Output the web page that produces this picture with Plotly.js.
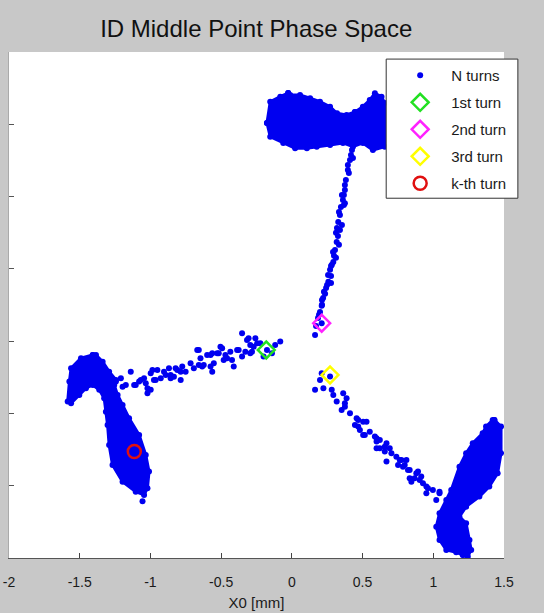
<!DOCTYPE html>
<html>
<head>
<meta charset="utf-8">
<script src="https://cdn.plot.ly/plotly-3.0.1.min.js"></script>
<style>
html,body{margin:0;padding:0;background:#c8c8c8;}
#chart{width:544px;height:613px;}
</style>
</head>
<body>
<div id="chart"></div>
<script>
// ---- data (X0 [mm] horizontal, unlabeled vertical axis) ----
const tickVals = [-2, -1.5, -1, -0.5, 0, 0.5, 1, 1.5];
const tickText = ['-2', '-1.5', '-1', '-0.5', '0', '0.5', '1', '1.5'];
const yTickVals = [-1.5, -1, -0.5, 0, 0.5, 1, 1.5, 2];

// dense cloud outlines (N turns)
const topBlobX = [-0.176,-0.153,-0.082,-0.026,-0.012,0.058,0.129,0.199,0.270,0.319,0.387,0.446,0.502,0.551,0.587,0.634,0.657,0.657,0.573,0.502,0.432,0.361,0.270,0.176,0.106,0.023,-0.061,-0.153,-0.176];
const topBlobY = [1.509,1.656,1.691,1.716,1.703,1.703,1.680,1.656,1.622,1.576,1.564,1.585,1.622,1.668,1.714,1.691,1.647,1.345,1.322,1.371,1.345,1.371,1.357,1.345,1.334,1.334,1.371,1.414,1.509];

const rightBlobX = [1.432,1.479,1.479,1.455,1.396,1.326,1.232,1.185,1.232,1.256,1.268,1.244,1.208,1.162,1.092,1.044,1.021,1.044,1.092,1.127,1.185,1.232,1.279,1.349,1.373,1.420,1.432];
const rightBlobY = [-0.545,-0.591,-0.775,-0.914,-1.006,-1.075,-1.145,-1.214,-1.259,-1.375,-1.444,-1.490,-1.480,-1.460,-1.444,-1.375,-1.283,-1.191,-1.098,-1.029,-0.868,-0.775,-0.706,-0.637,-0.591,-0.545,-0.545];

const leftBlobX = [-1.408,-1.491,-1.561,-1.573,-1.585,-1.561,-1.503,-1.456,-1.408,-1.362,-1.327,-1.315,-1.303,-1.292,-1.268,-1.197,-1.104,-1.045,-1.021,-1.010,-1.033,-1.080,-1.151,-1.197,-1.232,-1.256,-1.244,-1.292,-1.338,-1.385,-1.408];
const leftBlobY = [-0.095,-0.118,-0.187,-0.280,-0.418,-0.429,-0.372,-0.326,-0.303,-0.337,-0.395,-0.488,-0.580,-0.718,-0.856,-0.972,-1.041,-1.064,-1.017,-0.902,-0.787,-0.649,-0.533,-0.441,-0.372,-0.303,-0.268,-0.211,-0.142,-0.095,-0.095];

// sparse arms and stray points (N turns)
const armUpX = [0.425,0.411,0.396,0.382,0.375,0.361,0.347,0.340,0.328,0.340,0.326,0.317,0.305,0.298,0.293,0.270,0.277,0.258,0.242,0.235,0.213,0.211,0.199,0.185,0.211,0.164,0.368,0.319,0.283,0.249,0.221,0.354,0.403,0.432,0.446,-0.026,1.232,-1.056,
  0.375,0.333,0.354,0.312,0.333,0.291,0.312,0.277,0.256,0.277,0.227,0.213,0.192,0.171,0.396,0.418,0.375,0.368];
const armUpY = [1.322,1.253,1.184,1.115,1.046,0.976,0.928,0.873,0.824,0.769,0.728,0.686,0.631,0.590,0.548,0.493,0.451,0.410,0.368,0.327,0.285,0.244,0.202,0.160,0.124,0.043,0.942,0.783,0.528,0.389,0.299,1.011,1.163,1.267,1.585,1.716,-1.480,-1.108,
  0.954,0.894,0.804,0.749,0.666,0.617,0.576,0.520,0.458,0.403,0.341,0.251,0.182,0.105,1.218,1.288,1.080,1.011];

const armRightX = [0.270,0.211,0.164,0.223,0.282,0.293,0.363,0.317,0.375,0.352,0.411,0.469,0.528,0.446,0.481,0.551,0.504,0.599,0.622,0.669,0.692,0.599,0.657,0.739,0.763,0.810,0.669,0.786,0.833,0.880,0.833,0.904,0.951,0.997,0.951,1.044,1.021,
  0.199,0.387,0.375,0.458,0.504,0.469,0.516,0.587,0.599,0.657,0.622,0.704,0.775,0.798,0.751,0.821,0.892,0.868,0.915,0.845,0.927,0.962,1.044];
const armRightY = [-0.245,-0.222,-0.337,-0.326,-0.337,-0.372,-0.360,-0.418,-0.429,-0.476,-0.499,-0.545,-0.557,-0.580,-0.614,-0.626,-0.649,-0.672,-0.683,-0.706,-0.741,-0.741,-0.764,-0.799,-0.822,-0.822,-0.833,-0.868,-0.891,-0.914,-0.948,-0.960,-1.006,-1.029,-1.052,-1.052,-1.098,
  -0.268,-0.395,-0.453,-0.533,-0.557,-0.591,-0.649,-0.660,-0.695,-0.730,-0.741,-0.775,-0.822,-0.856,-0.856,-0.891,-0.902,-0.948,-0.937,-0.972,-0.983,-1.017,-1.041];

const armLeftX = [-1.209,-1.197,-1.139,-1.115,-1.080,-1.045,-1.021,-0.998,-0.975,-0.951,-0.927,-0.892,-0.869,-0.834,-0.810,-0.775,-0.751,-0.716,-0.693,-0.669,-0.646,-0.623,-0.599,-0.552,-0.528,-0.505,-0.482,-0.435,-0.411,-0.387,-0.352,-0.317,-0.294,-0.270,-0.223,-0.176,-0.141,-0.082,-0.200,-0.118,-0.998,-0.857,-0.634,-0.563,-0.470,-0.423,-0.352,-0.294,
  -0.306,-0.258,-0.246,-0.282,-0.329,-0.376,-0.458,-0.493,-0.517,-0.575,-0.575,-0.563,-0.658,-0.658,-0.786,-0.786,-0.822,-0.857,-0.904,-0.963,-0.986,-1.033,-1.068,-1.104,-1.174,-1.244,-1.021];
const armLeftY = [-0.257,-0.315,-0.211,-0.303,-0.280,-0.257,-0.326,-0.222,-0.268,-0.199,-0.257,-0.234,-0.187,-0.246,-0.199,-0.176,-0.211,-0.153,-0.187,-0.061,-0.118,-0.165,-0.095,-0.153,-0.084,-0.038,-0.130,-0.073,-0.176,-0.061,0.055,0.008,-0.084,-0.038,-0.015,-0.061,-0.084,-0.003,-0.107,-0.026,-0.337,-0.257,-0.176,-0.084,-0.095,-0.130,-0.107,-0.026,
  0.020,0.020,-0.015,-0.073,-0.073,-0.061,-0.118,-0.049,-0.084,-0.095,-0.176,-0.211,-0.061,-0.165,-0.211,-0.268,-0.187,-0.234,-0.211,-0.268,-0.199,-0.291,-0.268,-0.303,-0.303,-0.280,-0.360];

// highlighted turns
const turnNames = ['1st turn', '2nd turn', '3rd turn', 'k-th turn'];
const turnX = [-0.181, 0.211, 0.270, -1.114];
const turnY = [-0.061, 0.124, -0.234, -0.763];
const turnColors = ['#22e022', '#ff22ff', '#ffff00', '#e01010'];
const turnSymbols = ['diamond-open', 'diamond-open', 'diamond-open', 'circle-open'];

// ---- traces ----
const blue = '#0000f0';
const dotsX = armUpX.concat(armRightX, armLeftX);
const dotsY = armUpY.concat(armRightY, armLeftY);

const traces = [];
traces.push({
  type: 'scatter', mode: 'markers', name: 'N turns', legendgroup: 'g0',
  x: dotsX, y: dotsY,
  marker: {color: blue, size: 6, symbol: 'circle'},
  hoverinfo: 'skip'
});
[[topBlobX, topBlobY], [rightBlobX, rightBlobY], [leftBlobX, leftBlobY]].forEach(function (b) {
  traces.push({
    type: 'scatter', mode: 'lines+markers', x: b[0], y: b[1],
    fill: 'toself', fillcolor: blue,
    line: {color: blue, width: 3},
    marker: {color: blue, size: 6},
    showlegend: false, hoverinfo: 'skip'
  });
});
turnNames.forEach(function (n, i) {
  traces.push({
    type: 'scatter', mode: 'markers', name: n, legendgroup: 'g' + (i + 1),
    x: [turnX[i]], y: [turnY[i]],
    marker: {symbol: turnSymbols[i], size: 13, color: turnColors[i], line: {width: 2.5, color: turnColors[i]}},
    hoverinfo: 'skip'
  });
});

const layout = {
  width: 544, height: 613,
  paper_bgcolor: '#c8c8c8', plot_bgcolor: '#ffffff',
  margin: {l: 9, r: 40, t: 52, b: 55},
  font: {family: 'Liberation Sans, Arial, sans-serif', color: '#1a1a1a'},
  title: {text: 'ID Middle Point Phase Space', font: {size: 24, color: '#111'}, x: 0.471, xanchor: 'center', y: 0.954, yanchor: 'middle'},
  xaxis: {
    range: [-2, 1.5], tickmode: 'array', tickvals: tickVals, ticktext: tickText,
    ticks: 'inside', ticklen: 5, tickcolor: '#444', showgrid: false, zeroline: false,
    showline: true, linecolor: '#555', linewidth: 1,
    tickfont: {size: 14, color: '#1a1a1a'}, ticklabelstandoff: 11,
    title: {text: 'X0 [mm]', font: {size: 15, color: '#1a1a1a'}, standoff: 8}
  },
  yaxis: {
    range: [-1.5, 2], tickmode: 'array', tickvals: yTickVals, showticklabels: false,
    ticks: 'inside', ticklen: 5, tickcolor: '#555', showgrid: false, zeroline: false,
    showline: true, linecolor: '#aaa', linewidth: 1
  },
  showlegend: true,
  legend: {
    x: 0.768, y: 0.986, xanchor: 'left', yanchor: 'top',
    bgcolor: 'rgba(0,0,0,0)', borderwidth: 0,
    font: {size: 15, color: '#1a1a1a'},
    itemwidth: 52, traceorder: 'grouped', tracegroupgap: 4.5
  },
  shapes: [{
    type: 'rect', xref: 'paper', yref: 'paper', layer: 'above',
    x0: 0.762, x1: 1.028, y0: 0.711, y1: 0.986,
    fillcolor: '#ffffff', line: {color: '#333', width: 1}
  }]
};

Plotly.newPlot('chart', traces, layout, {displayModeBar: false, staticPlot: true});
</script>
</body>
</html>
